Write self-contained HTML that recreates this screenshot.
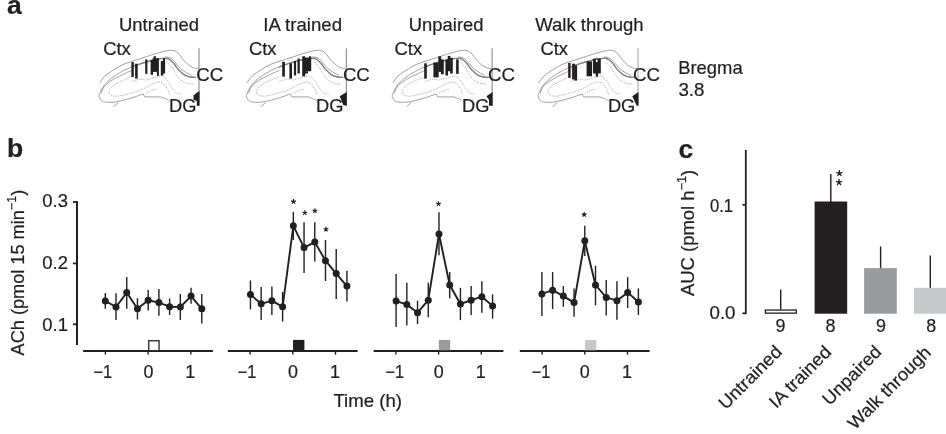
<!DOCTYPE html>
<html><head><meta charset="utf-8"><title>Figure</title>
<style>
html,body{margin:0;padding:0;background:#fff;}
body{width:946px;height:434px;overflow:hidden;}
svg{display:block;will-change:transform;}
svg text{font-family:"Liberation Sans",sans-serif;fill:#231f20;stroke:#231f20;stroke-width:0.22px;}
</style></head><body>
<svg width="946" height="434" viewBox="0 0 946 434">
<rect x="0" y="0" width="946" height="434" fill="#ffffff"/>
<text x="7.0" y="13.9" font-size="26.5" text-anchor="start" font-weight="bold" >a</text>
<text x="7.0" y="157.3" font-size="26.5" text-anchor="start" font-weight="bold" >b</text>
<text x="678.4" y="157.5" font-size="26.5" text-anchor="start" font-weight="bold" >c</text>
<text x="119.0" y="31.4" font-size="17.9" text-anchor="start" font-weight="normal" textLength="79.9" lengthAdjust="spacingAndGlyphs" >Untrained</text>
<text x="263.3" y="31.4" font-size="17.9" text-anchor="start" font-weight="normal" textLength="78.8" lengthAdjust="spacingAndGlyphs" >IA trained</text>
<text x="408.8" y="31.4" font-size="17.9" text-anchor="start" font-weight="normal" textLength="74.7" lengthAdjust="spacingAndGlyphs" >Unpaired</text>
<text x="535.2" y="31.4" font-size="17.9" text-anchor="start" font-weight="normal" textLength="108.4" lengthAdjust="spacingAndGlyphs" >Walk through</text>
<g transform="translate(199.0,0)">
<path fill="none" stroke="#77787b" stroke-width="0.7" d="M-99.3,82.9C-98.5,81.8 -96.5,78.4 -94.2,76.2C-91.9,74.0 -88.5,71.8 -85.3,69.8C-82.1,67.8 -78.7,65.7 -75.0,64.1C-71.3,62.5 -67.1,61.4 -63.2,60.1C-59.3,58.8 -55.4,57.5 -51.5,56.3C-47.6,55.0 -43.1,53.5 -39.7,52.6C-36.3,51.7 -33.6,50.9 -31.1,50.6C-28.7,50.3 -26.8,50.1 -25.0,50.6C-23.2,51.1 -22.1,52.0 -20.6,53.4C-19.1,54.8 -17.8,57.3 -16.1,59.3C-14.4,61.3 -12.2,63.7 -10.2,65.2C-8.2,66.7 -5.9,67.6 -4.3,68.1C-2.7,68.6 -1.2,68.4 -0.6,68.4"/>
<path fill="none" stroke="#77787b" stroke-width="0.7" d="M-100.1,96.0C-99.6,94.8 -98.3,91.0 -97.1,88.8C-95.9,86.6 -94.7,84.9 -92.7,82.9C-90.7,80.9 -88.5,78.8 -85.3,76.6C-82.1,74.4 -77.9,71.7 -73.5,69.6C-69.1,67.5 -63.7,65.5 -58.8,63.9C-53.9,62.3 -48.2,60.7 -44.0,59.8C-39.8,58.9 -36.2,58.3 -33.8,58.3C-31.4,58.2 -30.9,58.6 -29.4,59.5C-27.9,60.4 -26.5,62.0 -25.0,63.7C-23.5,65.4 -22.3,67.8 -20.6,69.6C-18.9,71.4 -16.7,73.6 -14.7,74.8C-12.7,76.0 -10.8,76.6 -8.8,77.0C-6.9,77.4 -4.0,77.3 -3.0,77.4"/>
<path fill="none" stroke="#77787b" stroke-width="0.7" d="M-97.8,93.2C-97.2,92.0 -96.3,88.1 -94.2,85.8C-92.1,83.5 -88.8,81.3 -85.3,79.2C-81.8,77.1 -76.6,74.8 -73.5,73.3C-70.4,71.8 -68.0,70.8 -66.9,70.3"/>
<path fill="none" stroke="#77787b" stroke-width="0.7" d="M-33.8,56.8C-32.8,57.0 -29.6,57.3 -27.9,58.3C-26.2,59.3 -25.0,61.2 -23.5,62.8C-22.0,64.4 -20.8,66.3 -19.1,67.9C-17.4,69.5 -15.2,71.1 -13.2,72.3C-11.2,73.5 -8.3,74.8 -7.3,75.3"/>
<path fill="none" stroke="#77787b" stroke-width="0.7" d="M-100.1,96.0C-99.8,96.7 -99.0,99.0 -98.0,100.0C-97.0,101.0 -96.6,101.7 -94.2,102.0C-91.8,102.3 -88.0,102.6 -83.8,102.0C-79.6,101.4 -73.7,99.8 -69.0,98.4C-64.3,97.1 -58.0,94.7 -55.8,93.9 L-54.3,96.9 L-38.3,96.9 L-38.3,96.9C-37.3,97.3 -33.9,98.4 -32.4,99.1C-30.9,99.8 -29.9,100.9 -29.4,101.3"/>
<path fill="none" stroke="#77787b" stroke-width="0.7" d="M-85.3,106.5 L-80.9,102.8"/>
<path fill="none" stroke="#808285" stroke-width="1.4" d="M-67.2,67.0C-65.8,66.5 -62.7,65.1 -58.8,63.9C-54.9,62.7 -48.2,60.7 -44.0,59.8C-39.8,58.9 -36.2,58.3 -33.8,58.3C-31.4,58.2 -30.9,58.6 -29.4,59.5C-27.9,60.4 -26.5,62.0 -25.0,63.7C-23.5,65.4 -22.3,67.8 -20.6,69.6C-18.9,71.4 -16.7,73.6 -14.7,74.8C-12.7,76.0 -10.8,76.6 -8.8,77.0C-6.9,77.4 -4.0,77.3 -3.0,77.4"/>
<path fill="none" stroke="#8a8c8e" stroke-width="0.65" stroke-dasharray="1.3 1" d="M-32.4,62.2C-31.6,62.9 -29.4,64.8 -27.9,66.6C-26.4,68.4 -25.0,71.2 -23.5,73.3C-22.0,75.4 -20.8,77.6 -19.1,79.2C-17.4,80.8 -15.4,82.1 -13.2,82.9C-11.0,83.7 -7.0,83.9 -5.8,84.1"/>
<path fill="none" stroke="#8a8c8e" stroke-width="0.65" stroke-dasharray="1.3 1" d="M-66.9,81.4C-65.6,81.0 -61.1,79.5 -58.8,79.2C-56.5,79.0 -55.4,80.2 -53.0,79.9C-50.6,79.7 -46.9,78.3 -44.2,77.7C-41.5,77.1 -39.0,75.6 -36.8,76.2C-34.6,76.8 -32.6,79.3 -30.9,81.4C-29.2,83.5 -28.0,86.8 -26.5,88.8C-25.0,90.8 -23.5,92.3 -22.0,93.2C-20.5,94.1 -18.3,93.8 -17.6,93.9"/>
<path fill="none" stroke="#8a8c8e" stroke-width="0.65" stroke-dasharray="1.3 1" d="M-66.9,77.0C-68.0,77.4 -70.7,78.0 -73.5,79.2C-76.3,80.4 -81.1,82.5 -83.8,84.3C-86.5,86.1 -89.0,88.5 -89.7,90.2C-90.5,91.9 -89.8,93.7 -88.3,94.7C-86.8,95.7 -84.6,96.5 -80.9,96.1C-77.2,95.7 -70.3,93.7 -66.1,92.5C-61.9,91.3 -59.2,90.3 -55.8,88.8C-52.4,87.3 -48.5,84.7 -45.6,83.6C-42.7,82.5 -40.3,81.7 -38.3,82.1C-36.3,82.5 -35.0,84.4 -33.8,85.8C-32.6,87.2 -31.6,88.7 -30.9,90.2C-30.2,91.7 -29.6,94.0 -29.4,94.7"/>
<path fill="none" stroke="#8a8c8e" stroke-width="0.65" stroke-dasharray="1.3 1" d="M-53.0,93.2C-52.0,92.7 -48.8,90.8 -47.1,90.2C-45.4,89.6 -43.4,89.6 -42.7,89.5"/>
<line x1="0" y1="48.3" x2="0" y2="105.7" stroke="#6d6e71" stroke-width="0.9"/>
<rect x="-67.6" y="62.1" width="2.4" height="14.9" fill="#231f20"/>
<rect x="-63.900000000000006" y="63.7" width="2.6" height="14.9" fill="#231f20"/>
<rect x="-53.80000000000001" y="59.4" width="2.2" height="14.5" fill="#231f20"/>
<rect x="-48.400000000000006" y="59.8" width="2.4" height="14.9" fill="#231f20"/>
<rect x="-46.400000000000006" y="58.2" width="6.3" height="13.7" fill="#231f20"/>
<rect x="-45.400000000000006" y="56.3" width="2.4" height="2.2" fill="#231f20"/>
<rect x="-42.099999999999994" y="71.9" width="2.0" height="4.0" fill="#231f20"/>
<rect x="-38.19999999999999" y="61" width="2.5" height="14.5" fill="#231f20"/>
<rect x="-36.0" y="58.2" width="2.1" height="15.3" fill="#231f20"/>
<polygon points="0.5,91 -2,92.5 -5.5,95.4 -5.5,99.7 -2.2,100.9 -2.2,105.7 0.5,105.7" fill="#231f20"/>
</g>
<g transform="translate(346.3,0)">
<path fill="none" stroke="#77787b" stroke-width="0.7" d="M-99.3,82.9C-98.5,81.8 -96.5,78.4 -94.2,76.2C-91.9,74.0 -88.5,71.8 -85.3,69.8C-82.1,67.8 -78.7,65.7 -75.0,64.1C-71.3,62.5 -67.1,61.4 -63.2,60.1C-59.3,58.8 -55.4,57.5 -51.5,56.3C-47.6,55.0 -43.1,53.5 -39.7,52.6C-36.3,51.7 -33.6,50.9 -31.1,50.6C-28.7,50.3 -26.8,50.1 -25.0,50.6C-23.2,51.1 -22.1,52.0 -20.6,53.4C-19.1,54.8 -17.8,57.3 -16.1,59.3C-14.4,61.3 -12.2,63.7 -10.2,65.2C-8.2,66.7 -5.9,67.6 -4.3,68.1C-2.7,68.6 -1.2,68.4 -0.6,68.4"/>
<path fill="none" stroke="#77787b" stroke-width="0.7" d="M-100.1,96.0C-99.6,94.8 -98.3,91.0 -97.1,88.8C-95.9,86.6 -94.7,84.9 -92.7,82.9C-90.7,80.9 -88.5,78.8 -85.3,76.6C-82.1,74.4 -77.9,71.7 -73.5,69.6C-69.1,67.5 -63.7,65.5 -58.8,63.9C-53.9,62.3 -48.2,60.7 -44.0,59.8C-39.8,58.9 -36.2,58.3 -33.8,58.3C-31.4,58.2 -30.9,58.6 -29.4,59.5C-27.9,60.4 -26.5,62.0 -25.0,63.7C-23.5,65.4 -22.3,67.8 -20.6,69.6C-18.9,71.4 -16.7,73.6 -14.7,74.8C-12.7,76.0 -10.8,76.6 -8.8,77.0C-6.9,77.4 -4.0,77.3 -3.0,77.4"/>
<path fill="none" stroke="#77787b" stroke-width="0.7" d="M-97.8,93.2C-97.2,92.0 -96.3,88.1 -94.2,85.8C-92.1,83.5 -88.8,81.3 -85.3,79.2C-81.8,77.1 -76.6,74.8 -73.5,73.3C-70.4,71.8 -68.0,70.8 -66.9,70.3"/>
<path fill="none" stroke="#77787b" stroke-width="0.7" d="M-33.8,56.8C-32.8,57.0 -29.6,57.3 -27.9,58.3C-26.2,59.3 -25.0,61.2 -23.5,62.8C-22.0,64.4 -20.8,66.3 -19.1,67.9C-17.4,69.5 -15.2,71.1 -13.2,72.3C-11.2,73.5 -8.3,74.8 -7.3,75.3"/>
<path fill="none" stroke="#77787b" stroke-width="0.7" d="M-100.1,96.0C-99.8,96.7 -99.0,99.0 -98.0,100.0C-97.0,101.0 -96.6,101.7 -94.2,102.0C-91.8,102.3 -88.0,102.6 -83.8,102.0C-79.6,101.4 -73.7,99.8 -69.0,98.4C-64.3,97.1 -58.0,94.7 -55.8,93.9 L-54.3,96.9 L-38.3,96.9 L-38.3,96.9C-37.3,97.3 -33.9,98.4 -32.4,99.1C-30.9,99.8 -29.9,100.9 -29.4,101.3"/>
<path fill="none" stroke="#77787b" stroke-width="0.7" d="M-85.3,106.5 L-80.9,102.8"/>
<path fill="none" stroke="#808285" stroke-width="1.4" d="M-67.2,67.0C-65.8,66.5 -62.7,65.1 -58.8,63.9C-54.9,62.7 -48.2,60.7 -44.0,59.8C-39.8,58.9 -36.2,58.3 -33.8,58.3C-31.4,58.2 -30.9,58.6 -29.4,59.5C-27.9,60.4 -26.5,62.0 -25.0,63.7C-23.5,65.4 -22.3,67.8 -20.6,69.6C-18.9,71.4 -16.7,73.6 -14.7,74.8C-12.7,76.0 -10.8,76.6 -8.8,77.0C-6.9,77.4 -4.0,77.3 -3.0,77.4"/>
<path fill="none" stroke="#8a8c8e" stroke-width="0.65" stroke-dasharray="1.3 1" d="M-32.4,62.2C-31.6,62.9 -29.4,64.8 -27.9,66.6C-26.4,68.4 -25.0,71.2 -23.5,73.3C-22.0,75.4 -20.8,77.6 -19.1,79.2C-17.4,80.8 -15.4,82.1 -13.2,82.9C-11.0,83.7 -7.0,83.9 -5.8,84.1"/>
<path fill="none" stroke="#8a8c8e" stroke-width="0.65" stroke-dasharray="1.3 1" d="M-66.9,81.4C-65.6,81.0 -61.1,79.5 -58.8,79.2C-56.5,79.0 -55.4,80.2 -53.0,79.9C-50.6,79.7 -46.9,78.3 -44.2,77.7C-41.5,77.1 -39.0,75.6 -36.8,76.2C-34.6,76.8 -32.6,79.3 -30.9,81.4C-29.2,83.5 -28.0,86.8 -26.5,88.8C-25.0,90.8 -23.5,92.3 -22.0,93.2C-20.5,94.1 -18.3,93.8 -17.6,93.9"/>
<path fill="none" stroke="#8a8c8e" stroke-width="0.65" stroke-dasharray="1.3 1" d="M-66.9,77.0C-68.0,77.4 -70.7,78.0 -73.5,79.2C-76.3,80.4 -81.1,82.5 -83.8,84.3C-86.5,86.1 -89.0,88.5 -89.7,90.2C-90.5,91.9 -89.8,93.7 -88.3,94.7C-86.8,95.7 -84.6,96.5 -80.9,96.1C-77.2,95.7 -70.3,93.7 -66.1,92.5C-61.9,91.3 -59.2,90.3 -55.8,88.8C-52.4,87.3 -48.5,84.7 -45.6,83.6C-42.7,82.5 -40.3,81.7 -38.3,82.1C-36.3,82.5 -35.0,84.4 -33.8,85.8C-32.6,87.2 -31.6,88.7 -30.9,90.2C-30.2,91.7 -29.6,94.0 -29.4,94.7"/>
<path fill="none" stroke="#8a8c8e" stroke-width="0.65" stroke-dasharray="1.3 1" d="M-53.0,93.2C-52.0,92.7 -48.8,90.8 -47.1,90.2C-45.4,89.6 -43.4,89.6 -42.7,89.5"/>
<line x1="0" y1="48.3" x2="0" y2="105.7" stroke="#6d6e71" stroke-width="0.9"/>
<rect x="-64.10000000000002" y="61.8" width="2.7" height="14.8" fill="#231f20"/>
<rect x="-56.900000000000034" y="63.3" width="2.6" height="15.3" fill="#231f20"/>
<rect x="-52.400000000000034" y="61" width="2.2" height="14.5" fill="#231f20"/>
<rect x="-48.80000000000001" y="58.6" width="2.3" height="14.9" fill="#231f20"/>
<rect x="-44.10000000000002" y="56.3" width="3.0" height="20.0" fill="#231f20"/>
<rect x="-41.400000000000034" y="57.6" width="6.3" height="13.6" fill="#231f20"/>
<rect x="-37.5" y="56.3" width="2.4" height="1.7" fill="#231f20"/>
<rect x="-41.400000000000034" y="71.2" width="3.1" height="2.3" fill="#231f20"/>
<polygon points="0.5,91.9 -6.6,96.2 -3.1,104.9 0.5,105.7" fill="#231f20"/>
</g>
<g transform="translate(492.1,0)">
<path fill="none" stroke="#77787b" stroke-width="0.7" d="M-99.3,82.9C-98.5,81.8 -96.5,78.4 -94.2,76.2C-91.9,74.0 -88.5,71.8 -85.3,69.8C-82.1,67.8 -78.7,65.7 -75.0,64.1C-71.3,62.5 -67.1,61.4 -63.2,60.1C-59.3,58.8 -55.4,57.5 -51.5,56.3C-47.6,55.0 -43.1,53.5 -39.7,52.6C-36.3,51.7 -33.6,50.9 -31.1,50.6C-28.7,50.3 -26.8,50.1 -25.0,50.6C-23.2,51.1 -22.1,52.0 -20.6,53.4C-19.1,54.8 -17.8,57.3 -16.1,59.3C-14.4,61.3 -12.2,63.7 -10.2,65.2C-8.2,66.7 -5.9,67.6 -4.3,68.1C-2.7,68.6 -1.2,68.4 -0.6,68.4"/>
<path fill="none" stroke="#77787b" stroke-width="0.7" d="M-100.1,96.0C-99.6,94.8 -98.3,91.0 -97.1,88.8C-95.9,86.6 -94.7,84.9 -92.7,82.9C-90.7,80.9 -88.5,78.8 -85.3,76.6C-82.1,74.4 -77.9,71.7 -73.5,69.6C-69.1,67.5 -63.7,65.5 -58.8,63.9C-53.9,62.3 -48.2,60.7 -44.0,59.8C-39.8,58.9 -36.2,58.3 -33.8,58.3C-31.4,58.2 -30.9,58.6 -29.4,59.5C-27.9,60.4 -26.5,62.0 -25.0,63.7C-23.5,65.4 -22.3,67.8 -20.6,69.6C-18.9,71.4 -16.7,73.6 -14.7,74.8C-12.7,76.0 -10.8,76.6 -8.8,77.0C-6.9,77.4 -4.0,77.3 -3.0,77.4"/>
<path fill="none" stroke="#77787b" stroke-width="0.7" d="M-97.8,93.2C-97.2,92.0 -96.3,88.1 -94.2,85.8C-92.1,83.5 -88.8,81.3 -85.3,79.2C-81.8,77.1 -76.6,74.8 -73.5,73.3C-70.4,71.8 -68.0,70.8 -66.9,70.3"/>
<path fill="none" stroke="#77787b" stroke-width="0.7" d="M-33.8,56.8C-32.8,57.0 -29.6,57.3 -27.9,58.3C-26.2,59.3 -25.0,61.2 -23.5,62.8C-22.0,64.4 -20.8,66.3 -19.1,67.9C-17.4,69.5 -15.2,71.1 -13.2,72.3C-11.2,73.5 -8.3,74.8 -7.3,75.3"/>
<path fill="none" stroke="#77787b" stroke-width="0.7" d="M-100.1,96.0C-99.8,96.7 -99.0,99.0 -98.0,100.0C-97.0,101.0 -96.6,101.7 -94.2,102.0C-91.8,102.3 -88.0,102.6 -83.8,102.0C-79.6,101.4 -73.7,99.8 -69.0,98.4C-64.3,97.1 -58.0,94.7 -55.8,93.9 L-54.3,96.9 L-38.3,96.9 L-38.3,96.9C-37.3,97.3 -33.9,98.4 -32.4,99.1C-30.9,99.8 -29.9,100.9 -29.4,101.3"/>
<path fill="none" stroke="#77787b" stroke-width="0.7" d="M-85.3,106.5 L-80.9,102.8"/>
<path fill="none" stroke="#808285" stroke-width="1.4" d="M-67.2,67.0C-65.8,66.5 -62.7,65.1 -58.8,63.9C-54.9,62.7 -48.2,60.7 -44.0,59.8C-39.8,58.9 -36.2,58.3 -33.8,58.3C-31.4,58.2 -30.9,58.6 -29.4,59.5C-27.9,60.4 -26.5,62.0 -25.0,63.7C-23.5,65.4 -22.3,67.8 -20.6,69.6C-18.9,71.4 -16.7,73.6 -14.7,74.8C-12.7,76.0 -10.8,76.6 -8.8,77.0C-6.9,77.4 -4.0,77.3 -3.0,77.4"/>
<path fill="none" stroke="#8a8c8e" stroke-width="0.65" stroke-dasharray="1.3 1" d="M-32.4,62.2C-31.6,62.9 -29.4,64.8 -27.9,66.6C-26.4,68.4 -25.0,71.2 -23.5,73.3C-22.0,75.4 -20.8,77.6 -19.1,79.2C-17.4,80.8 -15.4,82.1 -13.2,82.9C-11.0,83.7 -7.0,83.9 -5.8,84.1"/>
<path fill="none" stroke="#8a8c8e" stroke-width="0.65" stroke-dasharray="1.3 1" d="M-66.9,81.4C-65.6,81.0 -61.1,79.5 -58.8,79.2C-56.5,79.0 -55.4,80.2 -53.0,79.9C-50.6,79.7 -46.9,78.3 -44.2,77.7C-41.5,77.1 -39.0,75.6 -36.8,76.2C-34.6,76.8 -32.6,79.3 -30.9,81.4C-29.2,83.5 -28.0,86.8 -26.5,88.8C-25.0,90.8 -23.5,92.3 -22.0,93.2C-20.5,94.1 -18.3,93.8 -17.6,93.9"/>
<path fill="none" stroke="#8a8c8e" stroke-width="0.65" stroke-dasharray="1.3 1" d="M-66.9,77.0C-68.0,77.4 -70.7,78.0 -73.5,79.2C-76.3,80.4 -81.1,82.5 -83.8,84.3C-86.5,86.1 -89.0,88.5 -89.7,90.2C-90.5,91.9 -89.8,93.7 -88.3,94.7C-86.8,95.7 -84.6,96.5 -80.9,96.1C-77.2,95.7 -70.3,93.7 -66.1,92.5C-61.9,91.3 -59.2,90.3 -55.8,88.8C-52.4,87.3 -48.5,84.7 -45.6,83.6C-42.7,82.5 -40.3,81.7 -38.3,82.1C-36.3,82.5 -35.0,84.4 -33.8,85.8C-32.6,87.2 -31.6,88.7 -30.9,90.2C-30.2,91.7 -29.6,94.0 -29.4,94.7"/>
<path fill="none" stroke="#8a8c8e" stroke-width="0.65" stroke-dasharray="1.3 1" d="M-53.0,93.2C-52.0,92.7 -48.8,90.8 -47.1,90.2C-45.4,89.6 -43.4,89.6 -42.7,89.5"/>
<line x1="0" y1="48.3" x2="0" y2="105.7" stroke="#6d6e71" stroke-width="0.9"/>
<rect x="-67.90000000000003" y="63.3" width="2.6" height="15.3" fill="#231f20"/>
<rect x="-58.700000000000045" y="62.5" width="5.3" height="14.9" fill="#231f20"/>
<rect x="-53.80000000000001" y="56.3" width="2.9" height="15.6" fill="#231f20"/>
<rect x="-51.200000000000045" y="59.4" width="2.9" height="14.9" fill="#231f20"/>
<rect x="-46.700000000000045" y="59.4" width="2.6" height="16.1" fill="#231f20"/>
<rect x="-44.400000000000034" y="55.9" width="2.7" height="15.3" fill="#231f20"/>
<rect x="-42.0" y="57.8" width="2.7" height="15.7" fill="#231f20"/>
<rect x="-36.0" y="59.4" width="2.6" height="14.5" fill="#231f20"/>
<polygon points="0.5,91.9 -5.7,96.2 -3.1,99.7 -3.1,105.7 0.5,105.7" fill="#231f20"/>
</g>
<g transform="translate(638.0,0)">
<path fill="none" stroke="#77787b" stroke-width="0.7" d="M-99.3,82.9C-98.5,81.8 -96.5,78.4 -94.2,76.2C-91.9,74.0 -88.5,71.8 -85.3,69.8C-82.1,67.8 -78.7,65.7 -75.0,64.1C-71.3,62.5 -67.1,61.4 -63.2,60.1C-59.3,58.8 -55.4,57.5 -51.5,56.3C-47.6,55.0 -43.1,53.5 -39.7,52.6C-36.3,51.7 -33.6,50.9 -31.1,50.6C-28.7,50.3 -26.8,50.1 -25.0,50.6C-23.2,51.1 -22.1,52.0 -20.6,53.4C-19.1,54.8 -17.8,57.3 -16.1,59.3C-14.4,61.3 -12.2,63.7 -10.2,65.2C-8.2,66.7 -5.9,67.6 -4.3,68.1C-2.7,68.6 -1.2,68.4 -0.6,68.4"/>
<path fill="none" stroke="#77787b" stroke-width="0.7" d="M-100.1,96.0C-99.6,94.8 -98.3,91.0 -97.1,88.8C-95.9,86.6 -94.7,84.9 -92.7,82.9C-90.7,80.9 -88.5,78.8 -85.3,76.6C-82.1,74.4 -77.9,71.7 -73.5,69.6C-69.1,67.5 -63.7,65.5 -58.8,63.9C-53.9,62.3 -48.2,60.7 -44.0,59.8C-39.8,58.9 -36.2,58.3 -33.8,58.3C-31.4,58.2 -30.9,58.6 -29.4,59.5C-27.9,60.4 -26.5,62.0 -25.0,63.7C-23.5,65.4 -22.3,67.8 -20.6,69.6C-18.9,71.4 -16.7,73.6 -14.7,74.8C-12.7,76.0 -10.8,76.6 -8.8,77.0C-6.9,77.4 -4.0,77.3 -3.0,77.4"/>
<path fill="none" stroke="#77787b" stroke-width="0.7" d="M-97.8,93.2C-97.2,92.0 -96.3,88.1 -94.2,85.8C-92.1,83.5 -88.8,81.3 -85.3,79.2C-81.8,77.1 -76.6,74.8 -73.5,73.3C-70.4,71.8 -68.0,70.8 -66.9,70.3"/>
<path fill="none" stroke="#77787b" stroke-width="0.7" d="M-33.8,56.8C-32.8,57.0 -29.6,57.3 -27.9,58.3C-26.2,59.3 -25.0,61.2 -23.5,62.8C-22.0,64.4 -20.8,66.3 -19.1,67.9C-17.4,69.5 -15.2,71.1 -13.2,72.3C-11.2,73.5 -8.3,74.8 -7.3,75.3"/>
<path fill="none" stroke="#77787b" stroke-width="0.7" d="M-100.1,96.0C-99.8,96.7 -99.0,99.0 -98.0,100.0C-97.0,101.0 -96.6,101.7 -94.2,102.0C-91.8,102.3 -88.0,102.6 -83.8,102.0C-79.6,101.4 -73.7,99.8 -69.0,98.4C-64.3,97.1 -58.0,94.7 -55.8,93.9 L-54.3,96.9 L-38.3,96.9 L-38.3,96.9C-37.3,97.3 -33.9,98.4 -32.4,99.1C-30.9,99.8 -29.9,100.9 -29.4,101.3"/>
<path fill="none" stroke="#77787b" stroke-width="0.7" d="M-85.3,106.5 L-80.9,102.8"/>
<path fill="none" stroke="#808285" stroke-width="1.4" d="M-67.2,67.0C-65.8,66.5 -62.7,65.1 -58.8,63.9C-54.9,62.7 -48.2,60.7 -44.0,59.8C-39.8,58.9 -36.2,58.3 -33.8,58.3C-31.4,58.2 -30.9,58.6 -29.4,59.5C-27.9,60.4 -26.5,62.0 -25.0,63.7C-23.5,65.4 -22.3,67.8 -20.6,69.6C-18.9,71.4 -16.7,73.6 -14.7,74.8C-12.7,76.0 -10.8,76.6 -8.8,77.0C-6.9,77.4 -4.0,77.3 -3.0,77.4"/>
<path fill="none" stroke="#8a8c8e" stroke-width="0.65" stroke-dasharray="1.3 1" d="M-32.4,62.2C-31.6,62.9 -29.4,64.8 -27.9,66.6C-26.4,68.4 -25.0,71.2 -23.5,73.3C-22.0,75.4 -20.8,77.6 -19.1,79.2C-17.4,80.8 -15.4,82.1 -13.2,82.9C-11.0,83.7 -7.0,83.9 -5.8,84.1"/>
<path fill="none" stroke="#8a8c8e" stroke-width="0.65" stroke-dasharray="1.3 1" d="M-66.9,81.4C-65.6,81.0 -61.1,79.5 -58.8,79.2C-56.5,79.0 -55.4,80.2 -53.0,79.9C-50.6,79.7 -46.9,78.3 -44.2,77.7C-41.5,77.1 -39.0,75.6 -36.8,76.2C-34.6,76.8 -32.6,79.3 -30.9,81.4C-29.2,83.5 -28.0,86.8 -26.5,88.8C-25.0,90.8 -23.5,92.3 -22.0,93.2C-20.5,94.1 -18.3,93.8 -17.6,93.9"/>
<path fill="none" stroke="#8a8c8e" stroke-width="0.65" stroke-dasharray="1.3 1" d="M-66.9,77.0C-68.0,77.4 -70.7,78.0 -73.5,79.2C-76.3,80.4 -81.1,82.5 -83.8,84.3C-86.5,86.1 -89.0,88.5 -89.7,90.2C-90.5,91.9 -89.8,93.7 -88.3,94.7C-86.8,95.7 -84.6,96.5 -80.9,96.1C-77.2,95.7 -70.3,93.7 -66.1,92.5C-61.9,91.3 -59.2,90.3 -55.8,88.8C-52.4,87.3 -48.5,84.7 -45.6,83.6C-42.7,82.5 -40.3,81.7 -38.3,82.1C-36.3,82.5 -35.0,84.4 -33.8,85.8C-32.6,87.2 -31.6,88.7 -30.9,90.2C-30.2,91.7 -29.6,94.0 -29.4,94.7"/>
<path fill="none" stroke="#8a8c8e" stroke-width="0.65" stroke-dasharray="1.3 1" d="M-53.0,93.2C-52.0,92.7 -48.8,90.8 -47.1,90.2C-45.4,89.6 -43.4,89.6 -42.7,89.5"/>
<line x1="0" y1="48.3" x2="0" y2="105.7" stroke="#939598" stroke-width="0.9"/>
<rect x="-69.79999999999995" y="62.9" width="2.4" height="14.9" fill="#231f20"/>
<rect x="-65.89999999999998" y="63.7" width="2.8" height="15.7" fill="#231f20"/>
<rect x="-63.5" y="65.3" width="2.6" height="15.3" fill="#231f20"/>
<rect x="-51.39999999999998" y="61.4" width="5.4" height="14.9" fill="#231f20"/>
<rect x="-45.10000000000002" y="58.6" width="7.9" height="14.9" fill="#231f20"/>
<rect x="-42.299999999999955" y="73" width="2.3" height="3.6" fill="#231f20"/>
<polygon points="0.5,91.9 -5.7,96.2 -1.4,105.4 0.5,105.7" fill="#231f20"/>
</g>
<rect x="595.9" y="59.6" width="1.7" height="2.4" fill="#fff"/>
<text x="103.19999999999999" y="54.8" font-size="17.9" text-anchor="start" font-weight="normal" textLength="27.6" lengthAdjust="spacingAndGlyphs" >Ctx</text>
<text x="196.20000000000002" y="81.3" font-size="17.9" text-anchor="start" font-weight="normal" textLength="26.9" lengthAdjust="spacingAndGlyphs" >CC</text>
<text x="169.10000000000002" y="111.6" font-size="17.9" text-anchor="start" font-weight="normal" textLength="27.4" lengthAdjust="spacingAndGlyphs" >DG</text>
<text x="248.9" y="54.8" font-size="17.9" text-anchor="start" font-weight="normal" textLength="27.6" lengthAdjust="spacingAndGlyphs" >Ctx</text>
<text x="342.9" y="81.3" font-size="17.9" text-anchor="start" font-weight="normal" textLength="26.9" lengthAdjust="spacingAndGlyphs" >CC</text>
<text x="316.1" y="111.6" font-size="17.9" text-anchor="start" font-weight="normal" textLength="27.4" lengthAdjust="spacingAndGlyphs" >DG</text>
<text x="394.5" y="54.8" font-size="17.9" text-anchor="start" font-weight="normal" textLength="27.6" lengthAdjust="spacingAndGlyphs" >Ctx</text>
<text x="488.0" y="81.3" font-size="17.9" text-anchor="start" font-weight="normal" textLength="26.9" lengthAdjust="spacingAndGlyphs" >CC</text>
<text x="462.0" y="111.6" font-size="17.9" text-anchor="start" font-weight="normal" textLength="27.4" lengthAdjust="spacingAndGlyphs" >DG</text>
<text x="540.4" y="54.8" font-size="17.9" text-anchor="start" font-weight="normal" textLength="27.6" lengthAdjust="spacingAndGlyphs" >Ctx</text>
<text x="633.0" y="81.3" font-size="17.9" text-anchor="start" font-weight="normal" textLength="26.9" lengthAdjust="spacingAndGlyphs" >CC</text>
<text x="607.9" y="111.6" font-size="17.9" text-anchor="start" font-weight="normal" textLength="27.4" lengthAdjust="spacingAndGlyphs" >DG</text>
<text x="678.2" y="74.4" font-size="17.9" text-anchor="start" font-weight="normal" textLength="64.5" lengthAdjust="spacingAndGlyphs" >Bregma</text>
<text x="678.4" y="96.4" font-size="17.9" text-anchor="start" font-weight="normal" textLength="26.0" lengthAdjust="spacingAndGlyphs" >3.8</text>
<line x1="77" y1="201.2" x2="77" y2="345" stroke="#231f20" stroke-width="2"/>
<line x1="72.9" y1="202" x2="77" y2="202" stroke="#231f20" stroke-width="1.8"/>
<text x="42.3" y="206.7" font-size="17.9" text-anchor="start" font-weight="normal" textLength="25.6" lengthAdjust="spacingAndGlyphs" >0.3</text>
<line x1="72.9" y1="263.4" x2="77" y2="263.4" stroke="#231f20" stroke-width="1.8"/>
<text x="42.3" y="269.0" font-size="17.9" text-anchor="start" font-weight="normal" textLength="25.6" lengthAdjust="spacingAndGlyphs" >0.2</text>
<line x1="72.9" y1="324.3" x2="77" y2="324.3" stroke="#231f20" stroke-width="1.8"/>
<text x="42.3" y="330.9" font-size="17.9" text-anchor="start" font-weight="normal" textLength="25.6" lengthAdjust="spacingAndGlyphs" >0.1</text>
<text transform="translate(23.9,355.4) rotate(-90)" font-size="17.9" textLength="165.6" lengthAdjust="spacingAndGlyphs">ACh (pmol 15 min<tspan font-size="12.4" dy="-8.1">−1</tspan><tspan dy="8.1">)</tspan></text>
<line x1="83.1" y1="351.1" x2="212.89999999999998" y2="351.1" stroke="#231f20" stroke-width="2"/>
<line x1="105.39999999999999" y1="351" x2="105.39999999999999" y2="354.6" stroke="#231f20" stroke-width="1.4"/>
<line x1="148.1" y1="351" x2="148.1" y2="354.6" stroke="#231f20" stroke-width="1.4"/>
<line x1="190.8" y1="351" x2="190.8" y2="354.6" stroke="#231f20" stroke-width="1.4"/>
<rect x="148.75" y="340.75" width="10.3" height="10" fill="#fff" stroke="#231f20" stroke-width="1.3"/>
<text x="93.5" y="377.8" font-size="17.9" text-anchor="start" font-weight="normal" textLength="18.6" lengthAdjust="spacingAndGlyphs" >−1</text>
<text x="148.4" y="377.8" font-size="17.9" text-anchor="middle" font-weight="normal" >0</text>
<text x="190.20000000000002" y="377.8" font-size="17.9" text-anchor="middle" font-weight="normal" >1</text>
<line x1="227.8" y1="351.1" x2="357.6" y2="351.1" stroke="#231f20" stroke-width="2"/>
<line x1="250.10000000000002" y1="351" x2="250.10000000000002" y2="354.6" stroke="#231f20" stroke-width="1.4"/>
<line x1="292.8" y1="351" x2="292.8" y2="354.6" stroke="#231f20" stroke-width="1.4"/>
<line x1="335.5" y1="351" x2="335.5" y2="354.6" stroke="#231f20" stroke-width="1.4"/>
<rect x="293.0" y="339.9" width="11.4" height="10.4" fill="#231f20"/>
<text x="237.8" y="377.8" font-size="17.9" text-anchor="start" font-weight="normal" textLength="18.6" lengthAdjust="spacingAndGlyphs" >−1</text>
<text x="293.1" y="377.8" font-size="17.9" text-anchor="middle" font-weight="normal" >0</text>
<text x="334.9" y="377.8" font-size="17.9" text-anchor="middle" font-weight="normal" >1</text>
<line x1="373.6" y1="351.1" x2="503.40000000000003" y2="351.1" stroke="#231f20" stroke-width="2"/>
<line x1="395.90000000000003" y1="351" x2="395.90000000000003" y2="354.6" stroke="#231f20" stroke-width="1.4"/>
<line x1="438.6" y1="351" x2="438.6" y2="354.6" stroke="#231f20" stroke-width="1.4"/>
<line x1="481.3" y1="351" x2="481.3" y2="354.6" stroke="#231f20" stroke-width="1.4"/>
<rect x="438.8" y="339.9" width="11.4" height="10.4" fill="#999b9e"/>
<text x="385.4" y="377.8" font-size="17.9" text-anchor="start" font-weight="normal" textLength="18.6" lengthAdjust="spacingAndGlyphs" >−1</text>
<text x="438.8" y="377.8" font-size="17.9" text-anchor="middle" font-weight="normal" >0</text>
<text x="480.7" y="377.8" font-size="17.9" text-anchor="middle" font-weight="normal" >1</text>
<line x1="519.8" y1="351.1" x2="649.5999999999999" y2="351.1" stroke="#231f20" stroke-width="2"/>
<line x1="542.0999999999999" y1="351" x2="542.0999999999999" y2="354.6" stroke="#231f20" stroke-width="1.4"/>
<line x1="584.8" y1="351" x2="584.8" y2="354.6" stroke="#231f20" stroke-width="1.4"/>
<line x1="627.5" y1="351" x2="627.5" y2="354.6" stroke="#231f20" stroke-width="1.4"/>
<rect x="585.0" y="339.9" width="11.4" height="10.4" fill="#c7c8ca"/>
<text x="531.8" y="377.8" font-size="17.9" text-anchor="start" font-weight="normal" textLength="18.6" lengthAdjust="spacingAndGlyphs" >−1</text>
<text x="584.7" y="377.8" font-size="17.9" text-anchor="middle" font-weight="normal" >0</text>
<text x="626.9" y="377.8" font-size="17.9" text-anchor="middle" font-weight="normal" >1</text>
<text x="333.4" y="407.4" font-size="17.9" text-anchor="start" font-weight="normal" textLength="68.6" lengthAdjust="spacingAndGlyphs" >Time (h)</text>
<line x1="105.30" y1="292.9" x2="105.30" y2="308.8" stroke="#231f20" stroke-width="1.4"/>
<line x1="116.02" y1="293.3" x2="116.02" y2="319.9" stroke="#231f20" stroke-width="1.4"/>
<line x1="126.74" y1="277.0" x2="126.74" y2="308.8" stroke="#231f20" stroke-width="1.4"/>
<line x1="137.46" y1="298.2" x2="137.46" y2="319.5" stroke="#231f20" stroke-width="1.4"/>
<line x1="148.18" y1="289.9" x2="148.18" y2="310.6" stroke="#231f20" stroke-width="1.4"/>
<line x1="158.90" y1="289.0" x2="158.90" y2="315.7" stroke="#231f20" stroke-width="1.4"/>
<line x1="169.62" y1="298.4" x2="169.62" y2="315.0" stroke="#231f20" stroke-width="1.4"/>
<line x1="180.34" y1="294.0" x2="180.34" y2="319.9" stroke="#231f20" stroke-width="1.4"/>
<line x1="191.06" y1="287.8" x2="191.06" y2="303.7" stroke="#231f20" stroke-width="1.4"/>
<line x1="201.78" y1="294.0" x2="201.78" y2="323.6" stroke="#231f20" stroke-width="1.4"/>
<polyline points="105.30,300.9 116.02,307.0 126.74,292.6 137.46,308.8 148.18,300.2 158.90,302.6 169.62,306.7 180.34,307.0 191.06,296.1 201.78,308.8" fill="none" stroke="#231f20" stroke-width="1.9" stroke-linejoin="round"/>
<circle cx="105.30" cy="300.9" r="3.5" fill="#231f20"/>
<circle cx="116.02" cy="307.0" r="3.5" fill="#231f20"/>
<circle cx="126.74" cy="292.6" r="3.5" fill="#231f20"/>
<circle cx="137.46" cy="308.8" r="3.5" fill="#231f20"/>
<circle cx="148.18" cy="300.2" r="3.5" fill="#231f20"/>
<circle cx="158.90" cy="302.6" r="3.5" fill="#231f20"/>
<circle cx="169.62" cy="306.7" r="3.5" fill="#231f20"/>
<circle cx="180.34" cy="307.0" r="3.5" fill="#231f20"/>
<circle cx="191.06" cy="296.1" r="3.5" fill="#231f20"/>
<circle cx="201.78" cy="308.8" r="3.5" fill="#231f20"/>
<line x1="250.45" y1="280.4" x2="250.45" y2="309.4" stroke="#231f20" stroke-width="1.4"/>
<line x1="261.17" y1="286.9" x2="261.17" y2="320.1" stroke="#231f20" stroke-width="1.4"/>
<line x1="271.89" y1="286.5" x2="271.89" y2="314.9" stroke="#231f20" stroke-width="1.4"/>
<line x1="282.61" y1="292.0" x2="282.61" y2="321.5" stroke="#231f20" stroke-width="1.4"/>
<line x1="293.33" y1="211.8" x2="293.33" y2="240.0" stroke="#231f20" stroke-width="1.4"/>
<line x1="304.05" y1="222.3" x2="304.05" y2="273.0" stroke="#231f20" stroke-width="1.4"/>
<line x1="314.77" y1="222.3" x2="314.77" y2="261.4" stroke="#231f20" stroke-width="1.4"/>
<line x1="325.49" y1="240.0" x2="325.49" y2="281.0" stroke="#231f20" stroke-width="1.4"/>
<line x1="336.21" y1="248.9" x2="336.21" y2="298.9" stroke="#231f20" stroke-width="1.4"/>
<line x1="346.93" y1="270.7" x2="346.93" y2="301.6" stroke="#231f20" stroke-width="1.4"/>
<polyline points="250.45,294.6 261.17,303.8 271.89,300.7 282.61,306.8 293.33,225.8 304.05,247.6 314.77,242.1 325.49,260.7 336.21,273.6 346.93,286.1" fill="none" stroke="#231f20" stroke-width="1.9" stroke-linejoin="round"/>
<circle cx="250.45" cy="294.6" r="3.5" fill="#231f20"/>
<circle cx="261.17" cy="303.8" r="3.5" fill="#231f20"/>
<circle cx="271.89" cy="300.7" r="3.5" fill="#231f20"/>
<circle cx="282.61" cy="306.8" r="3.5" fill="#231f20"/>
<circle cx="293.33" cy="225.8" r="3.5" fill="#231f20"/>
<circle cx="304.05" cy="247.6" r="3.5" fill="#231f20"/>
<circle cx="314.77" cy="242.1" r="3.5" fill="#231f20"/>
<circle cx="325.49" cy="260.7" r="3.5" fill="#231f20"/>
<circle cx="336.21" cy="273.6" r="3.5" fill="#231f20"/>
<circle cx="346.93" cy="286.1" r="3.5" fill="#231f20"/>
<line x1="396.10" y1="274.0" x2="396.10" y2="327.1" stroke="#231f20" stroke-width="1.4"/>
<line x1="406.82" y1="282.8" x2="406.82" y2="325.6" stroke="#231f20" stroke-width="1.4"/>
<line x1="417.54" y1="300.7" x2="417.54" y2="324.1" stroke="#231f20" stroke-width="1.4"/>
<line x1="428.26" y1="282.8" x2="428.26" y2="317.3" stroke="#231f20" stroke-width="1.4"/>
<line x1="438.98" y1="212.3" x2="438.98" y2="255.3" stroke="#231f20" stroke-width="1.4"/>
<line x1="449.70" y1="272.1" x2="449.70" y2="298.3" stroke="#231f20" stroke-width="1.4"/>
<line x1="460.42" y1="287.8" x2="460.42" y2="320.1" stroke="#231f20" stroke-width="1.4"/>
<line x1="471.14" y1="286.0" x2="471.14" y2="314.9" stroke="#231f20" stroke-width="1.4"/>
<line x1="481.86" y1="281.3" x2="481.86" y2="312.7" stroke="#231f20" stroke-width="1.4"/>
<line x1="492.58" y1="294.3" x2="492.58" y2="318.6" stroke="#231f20" stroke-width="1.4"/>
<polyline points="396.10,301.1 406.82,304.4 417.54,312.7 428.26,300.2 438.98,233.9 449.70,285.0 460.42,304.0 471.14,300.2 481.86,296.7 492.58,305.9" fill="none" stroke="#231f20" stroke-width="1.9" stroke-linejoin="round"/>
<circle cx="396.10" cy="301.1" r="3.5" fill="#231f20"/>
<circle cx="406.82" cy="304.4" r="3.5" fill="#231f20"/>
<circle cx="417.54" cy="312.7" r="3.5" fill="#231f20"/>
<circle cx="428.26" cy="300.2" r="3.5" fill="#231f20"/>
<circle cx="438.98" cy="233.9" r="3.5" fill="#231f20"/>
<circle cx="449.70" cy="285.0" r="3.5" fill="#231f20"/>
<circle cx="460.42" cy="304.0" r="3.5" fill="#231f20"/>
<circle cx="471.14" cy="300.2" r="3.5" fill="#231f20"/>
<circle cx="481.86" cy="296.7" r="3.5" fill="#231f20"/>
<circle cx="492.58" cy="305.9" r="3.5" fill="#231f20"/>
<line x1="541.90" y1="272.1" x2="541.90" y2="316.0" stroke="#231f20" stroke-width="1.4"/>
<line x1="552.62" y1="272.1" x2="552.62" y2="309.0" stroke="#231f20" stroke-width="1.4"/>
<line x1="563.34" y1="286.0" x2="563.34" y2="306.8" stroke="#231f20" stroke-width="1.4"/>
<line x1="574.06" y1="288.4" x2="574.06" y2="316.8" stroke="#231f20" stroke-width="1.4"/>
<line x1="584.78" y1="225.8" x2="584.78" y2="256.1" stroke="#231f20" stroke-width="1.4"/>
<line x1="595.50" y1="265.7" x2="595.50" y2="305.3" stroke="#231f20" stroke-width="1.4"/>
<line x1="606.22" y1="279.9" x2="606.22" y2="315.5" stroke="#231f20" stroke-width="1.4"/>
<line x1="616.94" y1="281.3" x2="616.94" y2="319.7" stroke="#231f20" stroke-width="1.4"/>
<line x1="627.66" y1="277.1" x2="627.66" y2="308.1" stroke="#231f20" stroke-width="1.4"/>
<line x1="638.38" y1="288.4" x2="638.38" y2="314.9" stroke="#231f20" stroke-width="1.4"/>
<polyline points="541.90,293.9 552.62,290.2 563.34,296.1 574.06,302.6 584.78,240.8 595.50,285.0 606.22,297.4 616.94,300.7 627.66,292.4 638.38,302.0" fill="none" stroke="#231f20" stroke-width="1.9" stroke-linejoin="round"/>
<circle cx="541.90" cy="293.9" r="3.5" fill="#231f20"/>
<circle cx="552.62" cy="290.2" r="3.5" fill="#231f20"/>
<circle cx="563.34" cy="296.1" r="3.5" fill="#231f20"/>
<circle cx="574.06" cy="302.6" r="3.5" fill="#231f20"/>
<circle cx="584.78" cy="240.8" r="3.5" fill="#231f20"/>
<circle cx="595.50" cy="285.0" r="3.5" fill="#231f20"/>
<circle cx="606.22" cy="297.4" r="3.5" fill="#231f20"/>
<circle cx="616.94" cy="300.7" r="3.5" fill="#231f20"/>
<circle cx="627.66" cy="292.4" r="3.5" fill="#231f20"/>
<circle cx="638.38" cy="302.0" r="3.5" fill="#231f20"/>
<path d="M293.50,201.64L293.50,199.09M293.50,201.64L295.93,200.85M293.50,201.64L295.00,203.71M293.50,201.64L292.00,203.71M293.50,201.64L291.07,200.85" stroke="#231f20" stroke-width="1.15" fill="none"/>
<path d="M304.80,212.74L304.80,210.19M304.80,212.74L307.23,211.95M304.80,212.74L306.30,214.81M304.80,212.74L303.30,214.81M304.80,212.74L302.37,211.95" stroke="#231f20" stroke-width="1.15" fill="none"/>
<path d="M314.90,210.84L314.90,208.29M314.90,210.84L317.33,210.05M314.90,210.84L316.40,212.91M314.90,210.84L313.40,212.91M314.90,210.84L312.47,210.05" stroke="#231f20" stroke-width="1.15" fill="none"/>
<path d="M326.00,229.34L326.00,226.79M326.00,229.34L328.43,228.55M326.00,229.34L327.50,231.41M326.00,229.34L324.50,231.41M326.00,229.34L323.57,228.55" stroke="#231f20" stroke-width="1.15" fill="none"/>
<path d="M438.50,203.74L438.50,201.19M438.50,203.74L440.93,202.95M438.50,203.74L440.00,205.81M438.50,203.74L437.00,205.81M438.50,203.74L436.07,202.95" stroke="#231f20" stroke-width="1.15" fill="none"/>
<path d="M584.20,214.64L584.20,212.09M584.20,214.64L586.63,213.85M584.20,214.64L585.70,216.71M584.20,214.64L582.70,216.71M584.20,214.64L581.77,213.85" stroke="#231f20" stroke-width="1.15" fill="none"/>
<line x1="745.8" y1="150" x2="745.8" y2="314.1" stroke="#231f20" stroke-width="1.8"/>
<line x1="742.4" y1="204.8" x2="745.8" y2="204.8" stroke="#231f20" stroke-width="1.7"/>
<line x1="742.4" y1="313.3" x2="745.8" y2="313.3" stroke="#231f20" stroke-width="1.7"/>
<text x="709.9" y="212.1" font-size="17.9" text-anchor="start" font-weight="normal" textLength="23.2" lengthAdjust="spacingAndGlyphs" >0.1</text>
<text x="709.5" y="318.9" font-size="17.9" text-anchor="start" font-weight="normal" textLength="26.0" lengthAdjust="spacingAndGlyphs" >0.0</text>
<text transform="translate(694.3,296) rotate(-90)" font-size="17.9" textLength="126.2" lengthAdjust="spacingAndGlyphs">AUC (pmol h<tspan font-size="12.4" dy="-8.1">−1</tspan><tspan dy="8.1">)</tspan></text>
<line x1="780.7" y1="289.6" x2="780.7" y2="309.6" stroke="#231f20" stroke-width="1.4"/>
<line x1="830.8" y1="174.1" x2="830.8" y2="202" stroke="#231f20" stroke-width="1.4"/>
<line x1="880.6" y1="246.5" x2="880.6" y2="268.5" stroke="#231f20" stroke-width="1.4"/>
<line x1="930.3" y1="255.4" x2="930.3" y2="288" stroke="#231f20" stroke-width="1.4"/>
<rect x="765.35" y="310.04999999999995" width="30.999999999999996" height="3.1000000000000005" fill="#fff" stroke="#231f20" stroke-width="1.3"/>
<rect x="814.6" y="201.5" width="32.6" height="112.2" fill="#231f20"/>
<rect x="864.1" y="268.1" width="32.7" height="45.6" fill="#999b9e"/>
<rect x="914.0" y="287.8" width="32.6" height="25.9" fill="#c7c8ca"/>
<text x="780.4" y="331.6" font-size="17.9" text-anchor="middle" font-weight="normal" >9</text>
<text x="830.5" y="331.6" font-size="17.9" text-anchor="middle" font-weight="normal" >8</text>
<text x="881.0" y="331.6" font-size="17.9" text-anchor="middle" font-weight="normal" >9</text>
<text x="931.3" y="331.6" font-size="17.9" text-anchor="middle" font-weight="normal" >8</text>
<path d="M839.40,173.31L839.40,170.01M839.40,173.31L842.54,172.29M839.40,173.31L841.34,175.98M839.40,173.31L837.46,175.98M839.40,173.31L836.26,172.29" stroke="#231f20" stroke-width="1.3" fill="none"/>
<path d="M839.00,182.41L839.00,179.11M839.00,182.41L842.14,181.39M839.00,182.41L840.94,185.08M839.00,182.41L837.06,185.08M839.00,182.41L835.86,181.39" stroke="#231f20" stroke-width="1.3" fill="none"/>
<text transform="translate(783.0,353.0) rotate(-45)" font-size="17.9" x="-81.0" y="0" textLength="81.0" lengthAdjust="spacingAndGlyphs">Untrained</text>
<text transform="translate(832.4,353.0) rotate(-45)" font-size="17.9" x="-79.4" y="0" textLength="79.4" lengthAdjust="spacingAndGlyphs">IA trained</text>
<text transform="translate(882.6,353.0) rotate(-45)" font-size="17.9" x="-75.2" y="0" textLength="75.2" lengthAdjust="spacingAndGlyphs">Unpaired</text>
<text transform="translate(932.0,353.6) rotate(-45)" font-size="17.9" x="-108.8" y="0" textLength="108.8" lengthAdjust="spacingAndGlyphs">Walk through</text>
</svg>
</body></html>
